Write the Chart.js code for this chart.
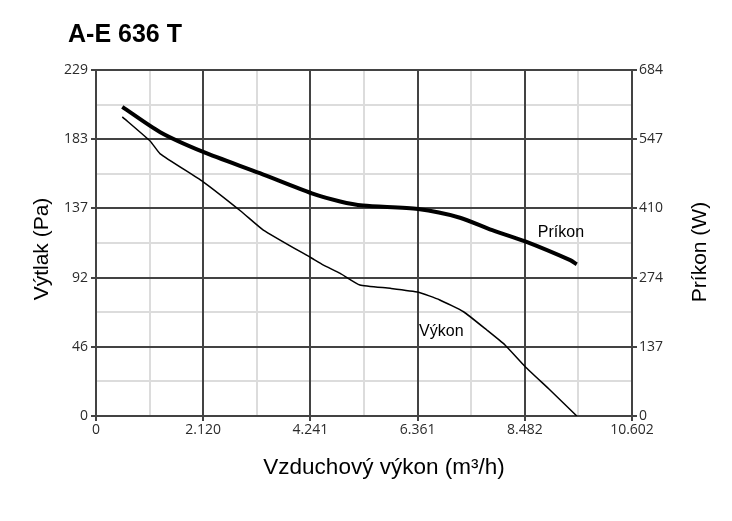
<!DOCTYPE html>
<html>
<head>
<meta charset="utf-8">
<script src="https://cdn.jsdelivr.net/npm/chart.js@4.4.0/dist/chart.umd.min.js"></script>
<style>
  html, body { margin: 0; padding: 0; background: #fff; }
</style>
</head>
<body>
<canvas id="fanChart" width="732" height="521"></canvas>
<script>
const chartTitle = 'A-E 636 T';

const xTickLabels = ['0', '2.120', '4.241', '6.361', '8.482', '10.602'];
const pressureTickLabels = ['0', '46', '92', '137', '183', '229'];
const powerTickLabels = ['0', '137', '274', '410', '547', '684'];
const flowMax = 10.602;
const pressureMax = 229;
const powerMax = 684;

// Výkon (thin line, left axis, Pa)
const vykonFlow     = [0.52, 1.07, 1.27, 2.12, 2.88, 3.31, 4.27, 4.50, 4.83, 5.22, 5.82, 6.38, 6.80, 7.27, 7.73, 8.09, 8.49, 8.98, 9.51];
const vykonPressure = [198,  182,  173.5, 155, 135.2, 123.1, 104.4, 99.9, 94.4, 86.7, 84.5, 81.9, 76.8, 69.0, 56.9, 47.0, 32.6, 17.2, 0];

// Príkon (thick line, right axis, W)
const prikonFlow  = [0.52, 1.27, 2.12, 3.24, 4.27, 4.83, 5.28, 6.37, 7.20, 7.79, 8.49, 9.38, 9.51];
const prikonPower = [611,  561,  522,  480,  440,  424,  416,  409,  392,  369,  345,  308,  300];

const majorGrid = '#434343';
const minorGrid = '#dcdcdc';
const tickFont = { family: '"Open Sans", "DejaVu Sans", sans-serif', size: 14 };
const tickColor = '#2b2b2b';

function evenTicks(count) {
  return scale => {
    scale.ticks = [];
    for (let i = 0; i < count; i++) {
      scale.ticks.push({ value: scale.min + (scale.max - scale.min) * i / (count - 1) });
    }
  };
}
function midTicks(count) {
  return scale => {
    scale.ticks = [];
    for (let i = 0; i < count; i++) {
      scale.ticks.push({ value: scale.min + (scale.max - scale.min) * (i + 0.5) / count });
    }
  };
}

const textPlugin = {
  id: 'texts',
  afterDraw(chart) {
    const ctx = chart.ctx;
    const sans = '"Liberation Sans", Arial, sans-serif';
    ctx.save();
    ctx.fillStyle = '#000';

    ctx.font = 'bold 25px ' + sans;
    ctx.textAlign = 'left';
    ctx.textBaseline = 'alphabetic';
    ctx.fillText(chartTitle, 68, 42);

    ctx.font = '22.5px ' + sans;
    ctx.textAlign = 'center';
    ctx.fillText('Vzduchový výkon (m³/h)', 384, 474);

    ctx.font = '21px ' + sans;
    ctx.textBaseline = 'middle';
    ctx.save();
    ctx.translate(42, 249);
    ctx.rotate(-Math.PI / 2);
    ctx.fillText('Výtlak (Pa)', 0, 0);
    ctx.restore();
    ctx.save();
    ctx.translate(700, 252);
    ctx.rotate(-Math.PI / 2);
    ctx.fillText('Príkon (W)', 0, 0);
    ctx.restore();

    const { x, y, y1 } = chart.scales;
    ctx.font = '16px ' + sans;
    ctx.textAlign = 'left';
    ctx.fillText('Príkon', x.getPixelForValue(8.74), y1.getPixelForValue(362));
    ctx.fillText('Výkon', x.getPixelForValue(6.39), y.getPixelForValue(55.6));
    ctx.restore();
  }
};

new Chart(document.getElementById('fanChart'), {
  type: 'line',
  data: {
    datasets: [
      {
        label: 'Príkon',
        yAxisID: 'y1',
        data: prikonFlow.map((f, i) => ({ x: f, y: prikonPower[i] })),
        borderColor: '#000',
        borderWidth: 4,
        pointRadius: 0,
        tension: 0.25
      },
      {
        label: 'Výkon',
        yAxisID: 'y',
        data: vykonFlow.map((f, i) => ({ x: f, y: vykonPressure[i] })),
        borderColor: '#000',
        borderWidth: 1.5,
        pointRadius: 0,
        tension: 0.15
      }
    ]
  },
  options: {
    responsive: false,
    animation: false,
    layout: { padding: { top: 70, left: 0, right: 0, bottom: 0 } },
    plugins: { legend: { display: false }, tooltip: { enabled: false } },
    scales: {
      xMinor: {
        type: 'linear', position: 'bottom', min: 0, max: flowMax, z: -2,
        afterBuildTicks: midTicks(5),
        afterFit: s => { s.height = 0; },
        ticks: { display: false },
        grid: { color: minorGrid, lineWidth: 2, drawTicks: false },
        border: { display: false }
      },
      yMinor: {
        type: 'linear', position: 'left', min: 0, max: pressureMax, z: -2,
        afterBuildTicks: midTicks(5),
        afterFit: s => { s.width = 0; },
        ticks: { display: false },
        grid: { color: minorGrid, lineWidth: 2, drawTicks: false },
        border: { display: false }
      },
      x: {
        type: 'linear', position: 'bottom', min: 0, max: flowMax, z: -1,
        afterBuildTicks: evenTicks(6),
        afterFit: s => { s.height = 105; },
        ticks: {
          callback: (v, i) => xTickLabels[i],
          autoSkip: false, maxRotation: 0, padding: 1,
          font: tickFont, color: tickColor
        },
        grid: { color: majorGrid, lineWidth: 2, tickLength: 5 },
        border: { color: majorGrid, width: 2 }
      },
      y: {
        type: 'linear', position: 'left', min: 0, max: pressureMax, z: -1,
        afterBuildTicks: evenTicks(6),
        afterFit: s => { s.width = 96; },
        ticks: {
          callback: (v, i) => pressureTickLabels[i],
          autoSkip: false, padding: 3,
          font: tickFont, color: tickColor
        },
        grid: { color: majorGrid, lineWidth: 2, tickLength: 5 },
        border: { color: majorGrid, width: 2 }
      },
      y1: {
        type: 'linear', position: 'right', min: 0, max: powerMax, z: -1,
        afterBuildTicks: evenTicks(6),
        afterFit: s => { s.width = 100; },
        ticks: {
          callback: (v, i) => powerTickLabels[i],
          autoSkip: false, padding: 2,
          font: tickFont, color: tickColor
        },
        grid: { drawOnChartArea: false, color: majorGrid, lineWidth: 2, tickLength: 5 },
        border: { color: majorGrid, width: 2 }
      }
    }
  },
  plugins: [textPlugin]
});
</script>
</body>
</html>
